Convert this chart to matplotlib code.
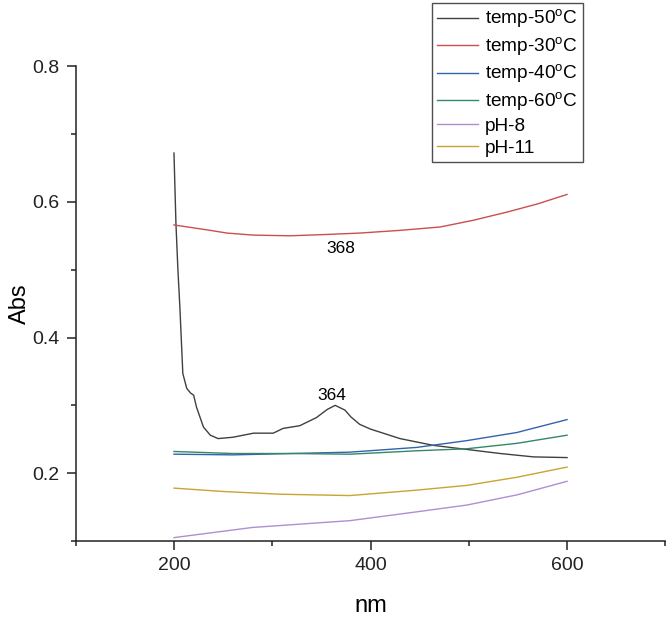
import matplotlib
matplotlib.use("Agg")
import matplotlib.pyplot as plt
from matplotlib.ticker import FixedLocator

plt.rcParams['font.family'] = ['Liberation Sans', 'DejaVu Sans']
plt.rcParams['mathtext.fontset'] = 'custom'
plt.rcParams['mathtext.rm'] = 'Liberation Sans'

# temp-50°C
x_t50 = [200, 202, 204, 206, 209, 213, 217, 220, 223, 230, 237, 245, 260, 281, 301, 311,
         328, 345, 356, 364, 374, 380, 389, 400, 415, 430, 464, 498, 532, 566, 600]
y_t50 = [0.672, 0.568, 0.50, 0.445, 0.347, 0.325, 0.318, 0.315, 0.297, 0.268, 0.256, 0.251,
         0.253, 0.259, 0.259, 0.266, 0.270, 0.282, 0.294, 0.300, 0.293, 0.283, 0.272, 0.265,
         0.258, 0.251, 0.241, 0.235, 0.229, 0.224, 0.223]
# temp-30°C
x_t30 = [200, 237, 254, 281, 318, 356, 389, 430, 471, 505, 539, 570, 600]
y_t30 = [0.566, 0.558, 0.554, 0.551, 0.550, 0.552, 0.554, 0.558, 0.563, 0.573, 0.585, 0.597, 0.611]
# temp-40°C
x_t40 = [200, 260, 320, 379, 447, 498, 549, 600]
y_t40 = [0.228, 0.227, 0.229, 0.231, 0.238, 0.248, 0.260, 0.279]
# temp-60°C
x_t60 = [200, 260, 320, 379, 447, 498, 549, 600]
y_t60 = [0.232, 0.229, 0.229, 0.228, 0.233, 0.236, 0.244, 0.256]
# pH-8
x_p8 = [200, 280, 379, 447, 498, 549, 600]
y_p8 = [0.105, 0.120, 0.130, 0.143, 0.153, 0.168, 0.188]
# pH-11
x_p11 = [200, 250, 308, 379, 447, 498, 549, 600]
y_p11 = [0.178, 0.173, 0.169, 0.167, 0.175, 0.182, 0.194, 0.209]

labels = ['temp-50$^{\\mathrm{o}}$C', 'temp-30$^{\\mathrm{o}}$C', 'temp-40$^{\\mathrm{o}}$C',
          'temp-60$^{\\mathrm{o}}$C', 'pH-8', 'pH-11']
colors = ['#404040', '#cc4e4e', '#3264ac', '#35876a', '#ae8fd2', '#c8a530']

peak_labels = ['368', '364']
peak_pos = [(370, 0.532), (361, 0.315)]

fig = plt.figure(figsize=(6.70, 6.19), dpi=100)
ax = fig.add_axes([0.113, 0.126, 0.880, 0.767])

series = [(x_t50, y_t50), (x_t30, y_t30), (x_t40, y_t40), (x_t60, y_t60), (x_p8, y_p8), (x_p11, y_p11)]
for (xs, ys), lab, c in zip(series, labels, colors):
    ax.plot(xs, ys, color=c, lw=1.0, label=lab)

for t, (px, py) in zip(peak_labels, peak_pos):
    ax.text(px, py, t, ha='center', va='center', fontsize=12.5)

ax.set_xlim(100, 700)
ax.set_ylim(0.1, 0.8)
ax.xaxis.set_major_locator(FixedLocator([200, 400, 600]))
ax.xaxis.set_minor_locator(FixedLocator([100, 300, 500, 700]))
ax.yaxis.set_major_locator(FixedLocator([0.2, 0.4, 0.6, 0.8]))
ax.yaxis.set_minor_locator(FixedLocator([0.1, 0.3, 0.5, 0.7]))
ax.set_yticklabels(['0.2', '0.4', '0.6', '0.8'])
for s in ['top', 'right']:
    ax.spines[s].set_visible(False)
for s in ['left', 'bottom']:
    ax.spines[s].set_linewidth(1.1)
    ax.spines[s].set_color('#222222')
ax.tick_params(which='major', direction='out', length=6.5, width=1.1, labelsize=14, pad=5, colors='#222222')
ax.tick_params(which='minor', direction='out', length=3.5, width=1.1, colors='#222222')
ax.set_xlabel('nm', fontsize=17, labelpad=15)
ax.set_ylabel('Abs', fontsize=17, labelpad=1)

leg = fig.legend(loc='upper left', bbox_to_anchor=(432 / 670, 1 - 3 / 619), borderaxespad=0,
                 fontsize=13.7, frameon=True, fancybox=False, handlelength=2.15,
                 labelspacing=0.25, handletextpad=0.4, borderpad=0.25)
leg.get_frame().set_edgecolor('#222222')
leg.get_frame().set_linewidth(1.0)

fig.savefig('out.png', dpi=100)
